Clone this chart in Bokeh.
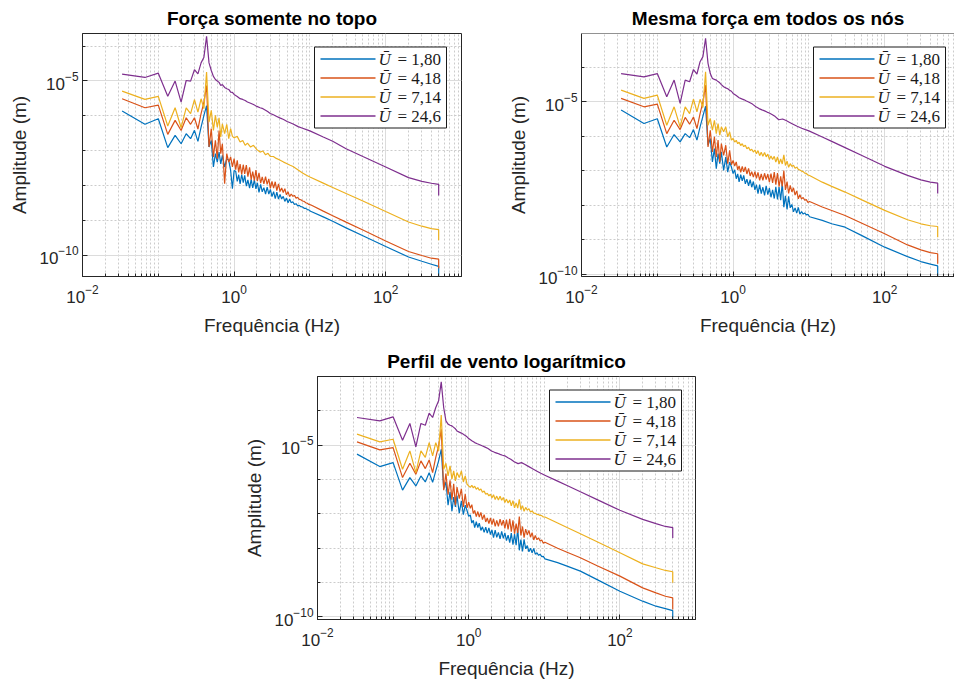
import math
from bokeh.plotting import figure
from bokeh.models import FixedTicker, Span, Spacer, BoxAnnotation, Label
from bokeh.layouts import row, column
from bokeh.embed import file_html
from bokeh.resources import INLINE

# ---------------- data ----------------
FREQ_LOW = [0.0333, 0.0667, 0.1, 0.1333, 0.1667, 0.2, 0.2333, 0.2667, 0.3, 0.3333, 0.3667, 0.4, 0.4333,
            0.4667, 0.5, 0.5333, 0.5667, 0.6, 0.6333, 0.6667, 0.7, 0.75, 0.8, 0.85, 0.9, 0.95, 1.0]
FREQ_MID = [1.1, 1.2, 1.3, 1.4, 1.5, 1.65, 1.8, 2.0, 2.2, 2.4, 2.6, 2.8, 3.0, 3.3, 3.6, 4.0, 4.5, 5.0, 5.5,
            6.0, 7.0, 8.0, 9.0, 10.0]
FREQ_MID_FINE = [1.05, 1.1, 1.15, 1.2, 1.26, 1.32, 1.38, 1.45, 1.52, 1.6, 1.68, 1.76, 1.85, 1.94, 2.03, 2.13,
                 2.24, 2.35, 2.47, 2.6, 2.73, 2.87, 3.01, 3.16, 3.32, 3.49, 3.66, 3.85, 4.04, 4.24, 4.45, 4.67,
                 4.9, 5.15, 5.4, 5.67, 5.96, 6.26, 6.57, 6.9, 7.25, 7.6, 8.0, 8.4, 8.8, 9.25, 9.7, 10.2]
FREQ_HIGH = [15.0, 20.0, 30.0, 50.0, 100.0, 200.0, 300.0, 400.0, 499.9, 500.0]
FREQ_COARSE = FREQ_LOW + FREQ_MID + FREQ_HIGH
FREQ_FINE = FREQ_LOW + FREQ_MID_FINE + FREQ_HIGH

# Panel 1: "Força somente no topo"  (U = 1,80 / 4,18 on fine grid; 7,14 / 24,6 on coarse grid)
TOPO_180 = [1.37e-6, 5.7e-7, 8.2e-7, 1.22e-7, 2.74e-7, 1.58e-7, 3.06e-7, 2.2e-7, 3.82e-7, 1.85e-7, 4.75e-7, 1.03e-6, 1.95e-6,
            1.27e-7, 1.97e-7, 3.4e-8, 8.2e-8, 4.7e-8, 9.1e-8, 4.2e-8, 7.3e-8, 3.4e-8, 5.9e-8, 5.3e-8, 2.7e-8, 8.1e-9, 2.7e-8,
            2.56e-8, 1.32e-8, 2.04e-8, 1.12e-8, 2.07e-8, 1.21e-8, 1.95e-8, 9.6e-9, 1.44e-8, 8.4e-9, 1.5e-8, 8.5e-9,
            1.46e-8, 8.0e-9, 1.2e-8, 6.3e-9, 1.07e-8, 6.6e-9, 8.7e-9, 5.7e-9, 9.0e-9, 5.7e-9, 7.7e-9, 4.8e-9,
            6.7e-9, 4.2e-9, 6.5e-9, 4.1e-9, 5.5e-9, 4.1e-9, 4.9e-9, 3.5e-9, 4.4e-9, 3.2e-9, 4.1e-9, 3.2e-9,
            3.4e-9, 2.84e-9, 3.0e-9, 2.61e-9, 2.69e-9, 2.47e-9, 2.42e-9, 2.22e-9, 2.21e-9, 2.04e-9, 2.0e-9, 1.83e-9,
            1.26e-9, 9.4e-10, 6.1e-10, 3.6e-10, 1.77e-10, 8.9e-11, 6.7e-11, 5.5e-11, 4.8e-11, 2.5e-11]
TOPO_418 = [3.08e-6, 1.7e-6, 2.03e-6, 2.93e-7, 7.4e-7, 3.8e-7, 8.8e-7, 5.7e-7, 8.8e-7, 4.17e-7, 1.15e-6, 2.47e-6, 7.4e-6,
            1.27e-7, 4.27e-7, 6.6e-8, 1.97e-7, 5.9e-8, 3.8e-7, 8.2e-8, 1.58e-7, 1.13e-8, 8.2e-8, 4.7e-8, 6.6e-8, 3.4e-8, 5.9e-8,
            2.86e-8, 5.3e-8, 2.38e-8, 4.1e-8, 2.07e-8, 3.95e-8, 2.17e-8, 3.85e-8, 1.8e-8, 3.3e-8, 1.48e-8, 2.52e-8,
            1.38e-8, 2.75e-8, 1.34e-8, 2.29e-8, 1.17e-8, 1.78e-8, 1.11e-8, 1.79e-8, 1.08e-8, 1.55e-8, 8.3e-9, 1.31e-8,
            8.4e-9, 1.28e-8, 7.1e-9, 1.11e-8, 6.7e-9, 8.5e-9, 6.3e-9, 8.1e-9, 5.4e-9, 6.6e-9, 4.8e-9, 5.7e-9,
            4.9e-9, 5.2e-9, 4.3e-9, 4.6e-9, 4.0e-9, 3.9e-9, 3.6e-9, 3.5e-9, 3.2e-9, 3.1e-9, 2.86e-9, 2.79e-9,
            1.84e-9, 1.36e-9, 8.9e-10, 5.3e-10, 2.57e-10, 1.28e-10, 9.8e-11, 8.2e-11, 7.7e-11, 4.2e-11]
TOPO_714 = [5.1e-6, 2.95e-6, 3.6e-6, 5.1e-7, 1.7e-6, 4.55e-7, 1.7e-6, 1.15e-6, 2.9e-6, 1.28e-6, 3.08e-6, 1.6e-6, 1.79e-5,
            6.6e-7, 1.43e-6, 3.8e-7, 1.03e-6, 4.75e-7, 8.8e-7, 2.46e-7, 5.9e-7, 3.07e-7, 5.7e-7, 2.2e-7, 4.27e-7, 2.57e-7, 2.35e-7,
            2.57e-7, 1.77e-7, 1.97e-7, 1.42e-7, 1.65e-7, 1.27e-7, 1.42e-7, 1.07e-7, 9.1e-8,
            9.8e-8, 7.6e-8, 8.4e-8, 6.8e-8, 6.8e-8, 6.0e-8, 5.4e-8, 4.7e-8, 4.2e-8, 3.8e-8,
            3.5e-8, 2.8e-8, 2.3e-8, 1.97e-8, 1.75e-8,
            1.17e-8, 8.8e-9, 5.9e-9, 3.6e-9, 1.79e-9, 9.0e-10, 6.8e-10, 5.8e-10, 5.4e-10, 2.7e-10]
TOPO_246 = [1.57e-5, 1.26e-5, 1.67e-5, 3.66e-6, 9.9e-6, 2.47e-6, 1.03e-5, 9.9e-6, 2.1e-5, 1.6e-5, 3.3e-5, 4.8e-5, 1.9e-4,
            3.3e-5, 2.0e-5, 1.35e-5, 1.1e-5, 1.0e-5, 9.1e-6, 7.4e-6, 7.9e-6, 6.5e-6, 6.0e-6, 5.7e-6, 4.8e-6, 4.7e-6, 4.1e-6,
            3.6e-6, 3.1e-6, 2.95e-6, 2.75e-6, 2.5e-6, 2.3e-6, 2.1e-6, 1.86e-6, 1.7e-6,
            1.6e-6, 1.45e-6, 1.3e-6, 1.17e-6, 1.07e-6, 9.7e-7, 8.7e-7, 7.8e-7, 6.9e-7, 6.3e-7,
            5.8e-7, 4.9e-7, 4.4e-7, 4.0e-7, 3.7e-7,
            2.46e-7, 1.86e-7, 1.14e-7, 6.8e-8, 3.4e-8, 1.68e-8, 1.32e-8, 1.16e-8, 1.08e-8, 5.2e-9]

# Panel 2: "Mesma força em todos os nós"  (1,80 / 4,18 / 7,14 fine grid; 24,6 coarse grid)
TODOS_180 = [5.7e-6, 2.33e-6, 3.2e-6, 4.9e-7, 1.12e-6, 6.9e-7, 1.19e-6, 9.1e-7, 1.56e-6, 7.7e-7, 1.87e-6, 3.8e-6, 7.4e-6,
             5.5e-7, 8.6e-7, 1.8e-7, 4.4e-7, 1.16e-7, 3.15e-7, 1.6e-7, 3.5e-7, 1.03e-7, 2.5e-7, 9.2e-8, 1.8e-7, 1.29e-7, 8.3e-8,
             1.07e-7, 5.9e-8, 8.2e-8, 4.8e-8, 7.7e-8, 5.1e-8, 7.4e-8, 4.2e-8, 5.7e-8, 3.7e-8, 5.6e-8, 3.36e-8,
             4.9e-8, 2.8e-8, 4.0e-8, 2.19e-8, 4.0e-8, 2.19e-8, 3.35e-8, 1.95e-8, 3.7e-8, 2.04e-8, 3.16e-8, 1.72e-8,
             2.82e-8, 1.58e-8, 3.45e-8, 1.5e-8, 3.4e-8, 1.41e-8, 4.5e-8, 8.9e-9, 1.88e-8, 7.6e-9, 1.82e-8, 8.5e-9,
             1.07e-8, 6.5e-9, 8.5e-9, 6.0e-9, 8.7e-9, 5.6e-9, 6.6e-9, 5.6e-9, 6.1e-9, 5.3e-9, 5.5e-9, 4.7e-9,
             3.7e-9, 2.95e-9, 2.35e-9, 1.34e-9, 6.2e-10, 3.3e-10, 2.38e-10, 2.0e-10, 1.78e-10, 8.8e-11]
TODOS_418 = [1.24e-5, 7.1e-6, 8.5e-6, 1.19e-6, 2.9e-6, 1.56e-6, 3.5e-6, 2.23e-6, 3.6e-6, 1.67e-6, 4.5e-6, 9.9e-6, 3.0e-5,
             4.9e-7, 1.49e-6, 3.5e-7, 9.6e-7, 2.5e-7, 7.7e-7, 1.8e-7, 6.1e-7, 2.8e-7, 5.5e-7, 1.6e-7, 3.9e-7, 1.5e-7, 2.0e-7,
             1.38e-7, 1.82e-7, 1.07e-7, 1.38e-7, 9.1e-8, 1.35e-7, 9.3e-8, 1.29e-7, 8.1e-8, 1.17e-7, 7.1e-8, 9.5e-8,
             6.6e-8, 9.5e-8, 6.1e-8, 9.0e-8, 5.3e-8, 8.1e-8, 5.3e-8, 8.5e-8, 5.6e-8, 8.1e-8, 4.7e-8, 8.3e-8,
             4.5e-8, 9.2e-8, 4.0e-8, 8.6e-8, 3.47e-8, 6.9e-8, 3.55e-8, 1.02e-7, 2.82e-8, 4.9e-8, 2.24e-8, 3.8e-8,
             2.45e-8, 3.24e-8, 2.0e-8, 2.63e-8, 1.55e-8, 2.04e-8, 1.54e-8, 1.7e-8, 1.41e-8, 1.47e-8, 1.21e-8, 1.3e-8,
             9.0e-9, 7.1e-9, 5.1e-9, 3.05e-9, 1.51e-9, 7.2e-10, 5.2e-10, 4.3e-10, 4.0e-10, 2.04e-10]
TODOS_714 = [2.15e-5, 1.24e-5, 1.54e-5, 2.08e-6, 7.1e-6, 1.87e-6, 7.1e-6, 4.5e-6, 1.18e-5, 5.1e-6, 1.17e-5, 6.8e-6, 7.3e-5,
             2.08e-6, 3.25e-6, 1.49e-6, 2.9e-6, 1.19e-6, 2.33e-6, 1.07e-6, 1.87e-6, 1.34e-6, 1.87e-6, 9.6e-7, 1.34e-6, 7.7e-7, 8.6e-7,
             6.8e-7, 7.6e-7, 6.1e-7, 6.7e-7, 5.4e-7, 6.1e-7, 5.0e-7, 5.5e-7, 4.35e-7, 4.8e-7, 3.85e-7, 4.2e-7,
             3.5e-7, 4.0e-7, 3.13e-7, 3.85e-7, 2.75e-7, 3.44e-7, 2.62e-7, 3.39e-7, 2.54e-7, 3.04e-7, 2.14e-7, 2.69e-7,
             2.13e-7, 2.63e-7, 1.78e-7, 2.51e-7, 1.58e-7, 2.19e-7, 1.58e-7, 2.88e-7, 1.43e-7, 1.91e-7, 1.26e-7, 1.61e-7,
             1.34e-7, 1.46e-7, 1.18e-7, 1.28e-7, 1.1e-7, 1.06e-7, 9.8e-8, 9.5e-8, 8.6e-8, 8.4e-8, 7.6e-8, 7.3e-8,
             4.7e-8, 3.56e-8, 2.43e-8, 1.45e-8, 7.2e-9, 3.85e-9, 2.94e-9, 2.58e-9, 2.46e-9, 1.21e-9]
TODOS_246 = [6.5e-5, 5.2e-5, 6.5e-5, 1.38e-5, 4.2e-5, 8.9e-6, 4.2e-5, 3.76e-5, 8.5e-5, 6.3e-5, 1.43e-4, 2.0e-4, 6.8e-4,
             1.28e-4, 6.5e-5, 4.7e-5, 4.4e-5, 4.2e-5, 3.8e-5, 3.5e-5, 3.1e-5, 2.7e-5, 2.5e-5, 2.36e-5, 2.15e-5, 2.0e-5, 1.73e-5,
             1.5e-5, 1.3e-5, 1.2e-5, 1.13e-5, 1.05e-5, 9.5e-6, 8.5e-6, 7.1e-6, 6.3e-6,
             5.8e-6, 5.4e-6, 5.0e-6, 4.7e-6, 4.2e-6, 3.7e-6, 3.0e-6, 3.15e-6, 2.85e-6, 2.55e-6,
             2.3e-6, 1.95e-6, 1.7e-6, 1.55e-6, 1.43e-6,
             9.5e-7, 7.1e-7, 4.7e-7, 2.76e-7, 1.35e-7, 7.4e-8, 5.5e-8, 4.7e-8, 4.4e-8, 2.2e-8]

# Panel 3: "Perfil de vento logarítmico"  (1,80 / 4,18 / 7,14 fine grid; 24,6 coarse grid)
LOG_180 = [5.5e-6, 2.38e-6, 3.1e-6, 4.9e-7, 1.14e-6, 6.5e-7, 1.27e-6, 8.5e-7, 1.59e-6, 8.3e-7, 1.78e-6, 3.5e-6, 7.6e-6,
           5.5e-7, 8.5e-7, 1.8e-7, 4.4e-7, 1.2e-7, 3.1e-7, 1.6e-7, 3.4e-7, 1.05e-7, 2.4e-7, 9.5e-8, 1.8e-7, 1.25e-7, 8.5e-8,
           9.3e-8, 5.4e-8, 6.5e-8, 4.0e-8, 5.9e-8, 4.0e-8, 5.4e-8, 3.3e-8, 4.2e-8, 2.88e-8, 4.1e-8, 2.75e-8,
           3.9e-8, 2.51e-8, 3.42e-8, 2.04e-8, 3.37e-8, 2.06e-8, 2.88e-8, 1.86e-8, 3.09e-8, 1.94e-8, 2.79e-8, 1.67e-8,
           2.41e-8, 1.45e-8, 2.75e-8, 1.26e-8, 2.57e-8, 1.23e-8, 3.7e-8, 8.7e-9, 1.78e-8, 8.1e-9, 1.82e-8, 9.6e-9,
           1.19e-8, 7.9e-9, 1.0e-8, 7.3e-9, 9.8e-9, 6.7e-9, 7.4e-9, 6.2e-9, 6.7e-9, 5.7e-9, 5.8e-9, 4.9e-9,
           3.8e-9, 3.0e-9, 2.15e-9, 1.22e-9, 5.6e-10, 2.87e-10, 2.05e-10, 1.75e-10, 1.53e-10, 8.4e-11]
LOG_418 = [1.25e-5, 7.3e-6, 8.5e-6, 1.14e-6, 2.98e-6, 1.42e-6, 3.5e-6, 2.08e-6, 3.7e-6, 1.59e-6, 4.4e-6, 9.5e-6, 2.9e-5,
           4.9e-7, 1.5e-6, 3.6e-7, 9.5e-7, 2.6e-7, 7.5e-7, 1.8e-7, 6.0e-7, 2.8e-7, 5.4e-7, 1.6e-7, 3.8e-7, 1.5e-7, 2.2e-7,
           1.45e-7, 1.86e-7, 1.02e-7, 1.26e-7, 8.3e-8, 1.17e-7, 8.1e-8, 1.1e-7, 6.8e-8, 9.5e-8, 5.8e-8, 7.6e-8,
           5.2e-8, 7.6e-8, 4.85e-8, 7.2e-8, 4.3e-8, 6.5e-8, 4.35e-8, 7.0e-8, 4.6e-8, 6.6e-8, 3.8e-8, 6.8e-8,
           3.55e-8, 7.2e-8, 3.05e-8, 6.5e-8, 2.63e-8, 5.2e-8, 2.79e-8, 8.3e-8, 2.37e-8, 4.3e-8, 2.04e-8, 3.6e-8,
           2.45e-8, 3.3e-8, 2.09e-8, 2.85e-8, 1.74e-8, 2.34e-8, 1.77e-8, 2.0e-8, 1.62e-8, 1.73e-8, 1.39e-8, 1.49e-8,
           1.0e-8, 7.6e-9, 5.3e-9, 3.1e-9, 1.54e-9, 7.0e-10, 5.0e-10, 4.0e-10, 3.6e-10, 1.64e-10]
LOG_714 = [2.09e-5, 1.25e-5, 1.49e-5, 1.99e-6, 6.8e-6, 1.59e-6, 6.8e-6, 4.4e-6, 1.19e-5, 4.9e-6, 1.19e-5, 6.8e-6, 7.5e-5,
           1.99e-6, 2.98e-6, 1.27e-6, 2.49e-6, 1.02e-6, 1.78e-6, 9.1e-7, 1.59e-6, 1.14e-6, 1.78e-6, 8.5e-7, 1.27e-6, 7.3e-7, 6.5e-7,
           5.9e-7, 6.8e-7, 5.7e-7, 6.4e-7, 5.2e-7, 5.8e-7, 4.85e-7, 5.3e-7, 4.25e-7, 4.6e-7, 3.7e-7, 4.0e-7,
           3.34e-7, 3.76e-7, 2.92e-7, 3.6e-7, 2.63e-7, 3.29e-7, 2.54e-7, 3.27e-7, 2.48e-7, 3.0e-7, 2.14e-7, 2.69e-7,
           2.08e-7, 2.54e-7, 1.72e-7, 2.43e-7, 1.5e-7, 2.09e-7, 1.48e-7, 2.66e-7, 1.32e-7, 1.74e-7, 1.19e-7, 1.54e-7,
           1.29e-7, 1.41e-7, 1.13e-7, 1.22e-7, 1.05e-7, 1.04e-7, 9.6e-8, 9.5e-8, 9.0e-8, 8.9e-8, 8.1e-8, 8.1e-8,
           5.4e-8, 4.0e-8, 2.64e-8, 1.54e-8, 7.4e-9, 3.5e-9, 2.7e-9, 2.25e-9, 2.06e-9, 9.8e-10]
LOG_246 = [6.4e-5, 5.1e-5, 6.7e-5, 1.4e-5, 4.3e-5, 8.9e-6, 4.3e-5, 3.8e-5, 8.6e-5, 6.4e-5, 1.25e-4, 1.96e-4, 7.0e-4,
           1.25e-4, 5.1e-5, 4.1e-5, 3.8e-5, 3.65e-5, 3.3e-5, 3.0e-5, 2.6e-5, 2.4e-5, 2.25e-5, 2.09e-5, 1.9e-5, 1.75e-5, 1.56e-5,
           1.35e-5, 1.19e-5, 1.1e-5, 1.03e-5, 9.6e-6, 8.8e-6, 8.0e-6, 6.8e-6, 6.2e-6,
           5.8e-6, 5.4e-6, 5.1e-6, 4.9e-6, 4.3e-6, 3.9e-6, 3.3e-6, 2.9e-6, 3.1e-6, 2.8e-6,
           2.5e-6, 2.05e-6, 1.75e-6, 1.52e-6, 1.36e-6,
           9.0e-7, 6.7e-7, 4.4e-7, 2.6e-7, 1.27e-7, 6.9e-8, 5.2e-8, 4.3e-8, 4.0e-8, 2.0e-8]

U_VALUES = ["1,80", "4,18", "7,14", "24,6"]
COLORS = ["#0072BD", "#D95319", "#EDB120", "#7E2F8E"]
TITLES = ["Força somente no topo", "Mesma força em todos os nós", "Perfil de vento logarítmico"]
X_LABEL = "Frequência (Hz)"
Y_LABEL = "Amplitude (m)"

X_MAJOR = [1e-2, 1e0, 1e2]
X_MINOR = [m * 10.0 ** e for e in range(-2, 3) for m in range(2, 10)] + [1e-1, 1e1, 1e3]
Y_MAJOR = [1e-10, 1e-5]
Y_MINOR = [10.0 ** e for e in range(-12, -2)]

AX = "#262626"
FONT = "Liberation Sans"
SERIF = "Liberation Serif"
FRAME_H = 243


def style_axis(ax, label, ticker):
    ax.ticker = ticker
    ax.axis_label = label
    ax.axis_label_text_font = FONT
    ax.axis_label_text_font_size = "19px"
    ax.axis_label_text_font_style = "normal"
    ax.axis_label_text_color = AX
    ax.major_label_text_font = FONT
    ax.major_label_text_font_size = "17px"
    ax.major_label_text_color = AX
    ax.axis_line_color = AX
    ax.major_tick_line_color = AX
    ax.minor_tick_line_color = AX
    ax.major_tick_in = 5
    ax.major_tick_out = 0
    ax.minor_tick_in = 3
    ax.minor_tick_out = 0


def make_panel(title, series, y_lim, x_end, frame_w, border_right, border_bottom, boxed=True):
    p = figure(x_axis_type="log", y_axis_type="log",
               x_range=(1e-2, x_end), y_range=y_lim,
               frame_width=frame_w, frame_height=FRAME_H,
               min_border_left=82, min_border_right=border_right,
               min_border_top=33, min_border_bottom=border_bottom,
               output_backend="svg", toolbar_location=None,
               background_fill_color="white", border_fill_color="white")
    p.title.text = title
    p.title.align = "center"
    p.title.text_font = FONT
    p.title.text_font_size = "19px"
    p.title.text_font_style = "bold"
    p.title.text_color = "#000000"

    xt = FixedTicker(ticks=X_MAJOR, minor_ticks=X_MINOR)
    yt = FixedTicker(ticks=Y_MAJOR, minor_ticks=Y_MINOR)
    style_axis(p.xaxis[0], X_LABEL, xt)
    style_axis(p.yaxis[0], Y_LABEL, yt)
    p.xaxis[0].major_label_standoff = 8
    p.xaxis[0].axis_label_standoff = 9
    p.yaxis[0].major_label_standoff = 4
    p.yaxis[0].axis_label_standoff = 6

    for g, t in ((p.xgrid[0], xt), (p.ygrid[0], yt)):
        g.ticker = t
        g.grid_line_color = "#dcdcdc"
        g.grid_line_width = 1
        g.minor_grid_line_color = "#cccccc"
        g.minor_grid_line_dash = "2 2"
        g.minor_grid_line_width = 1

    if boxed:
        p.outline_line_color = AX
        p.outline_line_width = 1
        p.outline_line_alpha = 1
    else:
        p.outline_line_color = None
        p.add_layout(Span(location=y_lim[1], dimension="width", line_color=AX, line_width=1))

    for (freq, amps), color in zip(series, COLORS):
        p.line(freq, amps, line_color=color, line_width=1.2)

    # legend drawn by hand (frame-pixel offsets converted to data coordinates)
    lx0, lx1 = math.log10(1e-2), math.log10(x_end)
    ly0, ly1 = math.log10(y_lim[0]), math.log10(y_lim[1])

    def X(px):
        return 10 ** (lx0 + px / frame_w * (lx1 - lx0))

    def Y(py):
        return 10 ** (ly1 - py / FRAME_H * (ly1 - ly0))

    bl, bt, bw, bh = 232.0, 13.5, 132.0, 81.0
    p.add_layout(BoxAnnotation(left=X(bl), right=X(bl + bw), top=Y(bt), bottom=Y(bt + bh),
                               fill_color="white", fill_alpha=1.0,
                               line_color="#1a1a1a", line_width=1, line_alpha=1.0))
    for i, (color, num) in enumerate(zip(COLORS, U_VALUES)):
        cpx = bt + 12.0 + 19.0 * i          # row centre, on a half pixel so the sample line is crisp
        p.add_layout(BoxAnnotation(left=X(bl + 6), right=X(bl + 61), top=Y(cpx - 0.65), bottom=Y(cpx + 0.65),
                                   fill_color=color, fill_alpha=1.0, line_color=None))
        cy = Y(cpx)
        p.add_layout(Label(x=X(bl + 64), y=cy, text="\u016A", text_font=SERIF, text_font_style="italic",
                           text_font_size="17px", text_baseline="middle", text_align="left",
                           text_color="#1a1a1a"))
        p.add_layout(Label(x=X(bl + 83), y=cy, text="= " + num, text_font=SERIF,
                           text_font_size="17px", text_baseline="middle", text_align="left",
                           text_color="#1a1a1a"))
    return p


p1 = make_panel(TITLES[0],
                [(FREQ_FINE, TOPO_180), (FREQ_FINE, TOPO_418), (FREQ_COARSE, TOPO_714), (FREQ_COARSE, TOPO_246)],
                (2.45e-11, 2.3e-4), 1e3, 379, 38, 67)
p2 = make_panel(TITLES[1],
                [(FREQ_FINE, TODOS_180), (FREQ_FINE, TODOS_418), (FREQ_FINE, TODOS_714), (FREQ_COARSE, TODOS_246)],
                (8.8e-11, 9.35e-4), 833.0, 373, 0, 67, boxed=False)
p3 = make_panel(TITLES[2],
                [(FREQ_FINE, LOG_180), (FREQ_FINE, LOG_418), (FREQ_FINE, LOG_714), (FREQ_COARSE, LOG_246)],
                (8.4e-11, 1.0e-3), 1e3, 378, 20, 61)

layout = column(row(p1, p2), row(Spacer(width=235, height=337), p3))

with open("out.html", "w") as f:
    f.write(file_html(layout, INLINE))
